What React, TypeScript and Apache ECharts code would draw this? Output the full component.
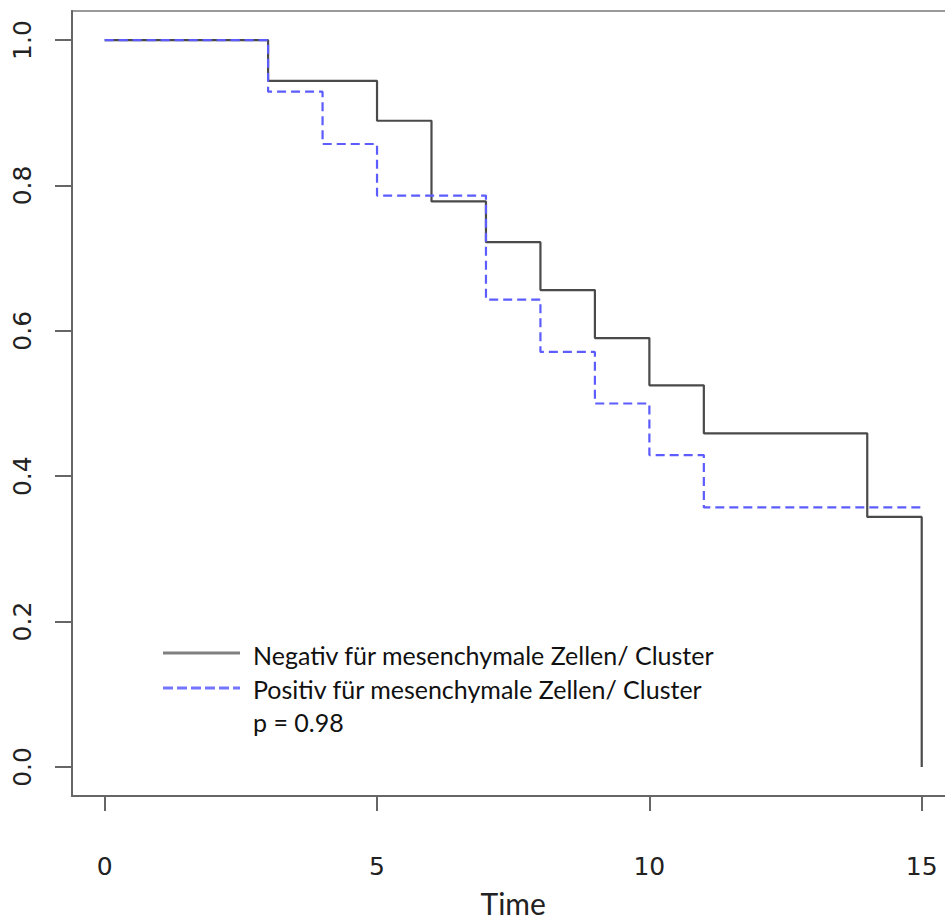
import React, { useEffect, useRef } from "react";
import * as echarts from "echarts";

const negTimes = [0, 3, 5, 6, 7, 8, 9, 10, 11, 14, 15];
const negSurv = [1.0, 0.944, 0.889, 0.778, 0.722, 0.656, 0.59, 0.525, 0.459, 0.344, 0.0];
const posTimes = [0, 3, 4, 5, 7, 8, 9, 10, 11, 15];
const posSurv = [1.0, 0.929, 0.857, 0.786, 0.643, 0.571, 0.5, 0.429, 0.357, 0.357];
const xTicks = [0, 5, 10, 15];
const yTicks = [0, 0.2, 0.4, 0.6, 0.8, 1.0];
const legendLabels = [
  "Negativ für mesenchymale Zellen/ Cluster",
  "Positiv für mesenchymale Zellen/ Cluster",
  "p = 0.98",
];

const BLACK = "#4a4a4a";
const BLUE = "#5c5cff";

export default function App() {
  const ref = useRef<HTMLDivElement>(null);
  useEffect(() => {
    if (!ref.current) return;
    const chart = echarts.init(ref.current, null, { renderer: "svg" });
    const neg = negTimes.map((t, i) => [t, negSurv[i]]);
    const pos = posTimes.map((t, i) => [t, posSurv[i]]);
    chart.setOption({
      animation: false,
      backgroundColor: "#ffffff",
      grid: {
        left: 72,
        top: 11,
        right: 5.6,
        bottom: 125,
        show: true,
        borderColor: "#9a9a9a",
        borderWidth: 2,
        containLabel: false,
        outerBoundsMode: "none",
      },
      xAxis: {
        type: "value",
        min: -0.6,
        max: 15.6,
        name: "Time",
        nameLocation: "middle",
        nameGap: 94,
        nameTextStyle: { fontFamily: "Lato", fontSize: 30, lineHeight: 26, color: "#222" },
        axisLine: { show: true, onZero: false, lineStyle: { color: "#666", width: 2 } },
        axisTick: { show: true, inside: false, length: 15, customValues: xTicks, lineStyle: { color: "#666", width: 2 } },
        axisLabel: {
          customValues: xTicks,
          margin: 34,
          fontFamily: "DejaVu Sans",
          fontSize: 25,
          color: "#222",
          verticalAlign: "top",
          padding: [24, 0, 0, 0],
        },
        splitLine: { show: false },
      },
      yAxis: {
        type: "value",
        min: -0.04,
        max: 1.04,
        axisLine: { show: true, onZero: false, lineStyle: { color: "#666", width: 2 } },
        axisTick: { show: true, inside: false, length: 17, customValues: yTicks, lineStyle: { color: "#666", width: 2 } },
        axisLabel: {
          customValues: yTicks,
          rotate: 90,
          margin: 37,
          fontFamily: "DejaVu Sans",
          fontSize: 25,
          color: "#222",
          formatter: (v: number) => v.toFixed(1),
        },
        splitLine: { show: false },
      },
      series: [
        {
          name: legendLabels[0],
          type: "line",
          step: "end",
          data: neg,
          symbol: "none",
          lineStyle: { color: BLACK, width: 2.2 },
          z: 2,
        },
        {
          name: legendLabels[1],
          type: "line",
          step: "end",
          data: pos,
          symbol: "none",
          lineStyle: { color: BLUE, width: 2.2, type: [9, 5] },
          z: 3,
        },
      ],
      graphic: [
        {
          type: "line",
          shape: { x1: 163, y1: 653, x2: 240, y2: 653 },
          style: { stroke: "#808080", lineWidth: 3 },
        },
        {
          type: "line",
          shape: { x1: 163, y1: 688, x2: 240, y2: 688 },
          style: { stroke: "#7474ff", lineWidth: 3, lineDash: [10, 4] },
        },
        ...legendLabels.map((t, i) => ({
          type: "text",
          x: 253,
          y: 655 + i * 33.5,
          style: {
            text: t,
            fontFamily: "Lato",
            fontSize: 25,
            fill: "#111",
            textVerticalAlign: "middle",
            textAlign: "left",
          },
        })),
      ],
    });
    return () => chart.dispose();
  }, []);
  return (
    <div
      style={{
        position: "absolute",
        left: 0,
        top: 0,
        width: 945,
        height: 921,
        overflow: "hidden",
        background: "#fff",
      }}
    >
      <div ref={ref} style={{ width: 960, height: 921 }} />
    </div>
  );
}
